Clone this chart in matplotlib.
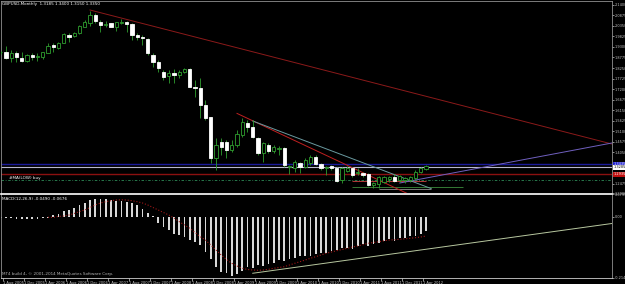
import numpy as np
import pandas as pd
import matplotlib
matplotlib.use('Agg')
import matplotlib.pyplot as plt

# monthly bars from Jul 2005 (first one is cut by the left edge) to Apr 2012
opens = [1.9040, 1.9065, 1.8735, 1.9015, 1.8765, 1.8600, 1.8900, 1.8785, 1.8785, 1.9015,
         1.9400, 1.9265, 1.9485, 1.9915, 1.9850, 1.9985, 2.0315, 2.0485, 2.0900, 2.0565,
         2.0400, 2.0485, 2.0315, 2.0485, 2.0535, 2.0450, 1.9900, 1.9815, 1.9685, 1.8900,
         1.8535, 1.8065, 1.7850, 1.7985, 1.7900, 1.8065, 1.8185, 1.7315, 1.7235, 1.6400,
         1.5785, 1.3735, 1.4565, 1.4565, 1.4150, 1.4400, 1.4900, 1.5515, 1.5315, 1.4735,
         1.3985, 1.4400, 1.4115, 1.4215, 1.4235, 1.3300, 1.3235, 1.3515, 1.3315, 1.3515,
         1.3785, 1.3450, 1.3235, 1.3350, 1.3235, 1.2650, 1.3115, 1.3235, 1.2985, 1.3015,
         1.2935, 1.2400, 1.2450, 1.2565, 1.2715, 1.2785, 1.2650, 1.2650, 1.2650, 1.2735,
         1.3065, 1.3185]
highs = [1.9095, 1.9350, 1.9150, 1.9115, 1.9065, 1.8950, 1.8985, 1.8985, 1.9065, 1.9515,
         1.9515, 1.9565, 1.9985, 1.9985, 2.0065, 2.0400, 2.0650, 2.1115, 2.0985, 2.0650,
         2.0615, 2.0515, 2.0565, 2.0685, 2.0600, 2.0485, 1.9985, 1.9900, 1.9735, 1.8985,
         1.8650, 1.8150, 1.8150, 1.8185, 1.8150, 1.8235, 1.8235, 1.7650, 1.7735, 1.6650,
         1.5785, 1.4735, 1.4735, 1.4650, 1.4650, 1.5150, 1.5735, 1.5650, 1.5650, 1.4815,
         1.4565, 1.4485, 1.4400, 1.4350, 1.4315, 1.3400, 1.3650, 1.3565, 1.3735, 1.3900,
         1.3900, 1.3485, 1.3350, 1.3400, 1.3315, 1.3315, 1.3350, 1.3315, 1.3235, 1.3065,
         1.2985, 1.2565, 1.2850, 1.2850, 1.2850, 1.2950, 1.2900, 1.2815, 1.2850, 1.3150,
         1.3315, 1.3400]
lows = [1.8950, 1.8685, 1.8565, 1.8565, 1.8565, 1.8550, 1.8650, 1.8615, 1.8685, 1.8985,
        1.9065, 1.9185, 1.9485, 1.9565, 1.9785, 1.9950, 2.0285, 2.0350, 2.0485, 2.0065,
        2.0315, 2.0285, 2.0115, 2.0465, 2.0065, 1.9650, 1.9650, 1.9400, 1.8900, 1.8315,
        1.8065, 1.7650, 1.7515, 1.7485, 1.7735, 1.7985, 1.7285, 1.6815, 1.5735, 1.5650,
        1.3485, 1.3150, 1.3900, 1.3735, 1.4065, 1.4315, 1.4815, 1.5065, 1.4735, 1.3900,
        1.3565, 1.3985, 1.3985, 1.3900, 1.3315, 1.2950, 1.3065, 1.2985, 1.3235, 1.3400,
        1.3400, 1.3150, 1.2900, 1.3150, 1.2565, 1.2515, 1.3065, 1.2815, 1.2900, 1.2815,
        1.2350, 1.2235, 1.2235, 1.2485, 1.2565, 1.2565, 1.2565, 1.2515, 1.2565, 1.2650,
        1.3015, 1.3150]
closes = [1.9060, 1.8735, 1.9015, 1.8785, 1.8600, 1.8900, 1.8785, 1.8825, 1.9035, 1.9365,
          1.9315, 1.9515, 1.9935, 1.9815, 2.0015, 2.0350, 2.0565, 2.0900, 2.0615, 2.0400,
          2.0465, 2.0315, 2.0535, 2.0535, 2.0435, 1.9900, 1.9815, 1.9735, 1.8985, 1.8565,
          1.8235, 1.7815, 1.8015, 1.7900, 1.8065, 1.8185, 1.7315, 1.7235, 1.6400, 1.5735,
          1.3735, 1.4400, 1.4315, 1.4150, 1.4400, 1.4950, 1.5565, 1.5315, 1.4815, 1.3985,
          1.4485, 1.4100, 1.4285, 1.4235, 1.3400, 1.3335, 1.3565, 1.3315, 1.3650, 1.3785,
          1.3450, 1.3235, 1.3315, 1.3235, 1.2600, 1.3235, 1.3235, 1.2900, 1.3065, 1.2900,
          1.2400, 1.2485, 1.2785, 1.2785, 1.2785, 1.2615, 1.2850, 1.2735, 1.2815, 1.3065,
          1.3235, 1.3350]

# MACD(12,26,9): main histogram and signal
macd_main = [-0.0053, -0.0053, -0.0053, -0.0070, -0.0070, -0.0070, -0.0070, -0.0070, -0.0053, -0.0035,
             0.0053, 0.0105, 0.0210, 0.0245, 0.0315, 0.0420, 0.0490, 0.0595, 0.0630, 0.0630,
             0.0630, 0.0595, 0.0560, 0.0560, 0.0525, 0.0490, 0.0420, 0.0280, 0.0140, 0.0018,
             -0.0210, -0.0350, -0.0455, -0.0595, -0.0630, -0.0700, -0.0805, -0.0875, -0.0980, -0.1225,
             -0.1470, -0.1750, -0.1925, -0.1960, -0.2065, -0.1995, -0.1890, -0.1750, -0.1785, -0.1680,
             -0.1715, -0.1645, -0.1610, -0.1505, -0.1540, -0.1470, -0.1435, -0.1365, -0.1365, -0.1365,
             -0.1295, -0.1260, -0.1260, -0.1190, -0.1155, -0.1085, -0.1085, -0.1120, -0.1015, -0.0945,
             -0.1015, -0.0945, -0.0910, -0.0840, -0.0770, -0.0840, -0.0735, -0.0735, -0.0665, -0.0665,
             -0.0595, -0.0490]
macd_signal = [np.nan] * 9 + [
    -0.0021, -0.0021, 0.0007, 0.0025, 0.0060, 0.0112, 0.0182, 0.0235, 0.0322, 0.0410,
    0.0480, 0.0525, 0.0560, 0.0585, 0.0592, 0.0585, 0.0560, 0.0525, 0.0480, 0.0410,
    0.0322, 0.0235, 0.0147, 0.0060, -0.0046, -0.0175, -0.0291, -0.0406, -0.0553, -0.0700,
    -0.0816, -0.0991, -0.1166, -0.1341, -0.1498, -0.1631, -0.1726, -0.1806, -0.1848, -0.1866,
    -0.1876, -0.1866, -0.1841, -0.1806, -0.1778, -0.1750, -0.1691, -0.1631, -0.1575, -0.1516,
    -0.1456, -0.1400, -0.1341, -0.1281, -0.1236, -0.1190, -0.1148, -0.1106, -0.1061, -0.1026,
    -0.0980, -0.0931, -0.0903, -0.0875, -0.0844, -0.0816, -0.0805, -0.0791, -0.0774, -0.0756,
    -0.0735, -0.0711, -0.0676]

# drawn objects (bar index, price)
long_trend_x = [17, 116.4]
long_trend_y = [2.115, 1.445]
red_trend_x = [45, 85]
red_trend_y = [1.598, 1.104]
grey_trend_x = [48, 82]
grey_trend_y = [1.560, 1.222]
violet_trend_x = [76, 116.4]
violet_trend_y = [1.250, 1.450]
macd_trend_x = [48, 116.4]
macd_trend_y = [-0.198, -0.0238]

level_blue = 1.3435
level_silver = 1.3285
level_red = 1.2935
level_buy = 1.2635
short_red = (1.2605, 67, 81)
short_green = (1.2285, 67, 88)
short_grey = (1.2185, 72, 82)

price_ticks = [2.1400, 2.0875, 2.0350, 1.9825, 1.9300, 1.8775, 1.8250, 1.7725, 1.7200,
               1.6675, 1.6150, 1.5625, 1.5100, 1.4575, 1.4050, 1.2475, 1.2000]
macd_ticks = [0.0795, 0.0, -0.2146]
macd_tick_labels = ['0.0795', '0.00', '-0.2146']

months = pd.date_range('2005-07-01', periods=len(opens), freq='MS')
label_idx = list(range(1, len(opens), 4))
date_labels = [months[i].strftime('1 %b %Y') for i in label_idx]

o = np.array(opens)
h = np.array(highs)
l = np.array(lows)
c = np.array(closes)
x = np.arange(len(o))
bull = c >= o

fg = '#c8c8c8'
wick = '#2f9e2f'
fs = 3.0
fs_axis = 2.5

fig = plt.figure(figsize=(6.25, 2.84), dpi=100, facecolor='black')
ax = fig.add_axes([0.0016, 0.32042, 0.9776, 0.67606], facecolor='black')
ax2 = fig.add_axes([0.0016, 0.02113, 0.9776, 0.29577], facecolor='black', sharex=ax)

# horizontal levels
ax.axhline(level_blue, color='#1a1a9a', lw=1.0, zorder=1)
ax.axhline(level_silver, color='#b8b8d0', lw=0.8, zorder=1)
ax.axhline(level_red, color='#8b1010', lw=1.0, zorder=1)
ax.axhline(level_buy, color='#2e8b57', lw=0.6, ls=(0, (3, 2, 1, 2)), zorder=1)
ax.hlines(short_red[0], short_red[1], short_red[2], color='#d04040', lw=0.6)
ax.hlines(short_green[0], short_green[1], short_green[2], color='#3c8c3c', lw=0.6)
ax.hlines(short_grey[0], short_grey[1], short_grey[2], color='#909090', lw=0.6)

# trend lines
ax.plot(long_trend_x, long_trend_y, color='#8b1a1a', lw=0.7)
ax.plot(red_trend_x, red_trend_y, color='#c02020', lw=0.7)
ax.plot(grey_trend_x, grey_trend_y, color='#6a9aa0', lw=0.7)
ax.plot(violet_trend_x, violet_trend_y, color='#7060c0', lw=0.7)

# candles
ax.vlines(x, l, h, color=wick, lw=0.6, zorder=3)
body = np.maximum(np.abs(c - o), 0.0015)
ax.bar(x, body, bottom=np.minimum(o, c), width=0.6,
       color=np.where(bull, 'black', 'white'),
       edgecolor=np.where(bull, wick, 'white'), linewidth=0.6, zorder=4)

ax.set_xlim(0.05, 116.43)
ax.set_ylim(1.2, 2.16)
ax.yaxis.tick_right()
ax.set_yticks(price_ticks)
ax.set_yticklabels(['%.4f' % v for v in price_ticks])
ax.tick_params(axis='y', colors=fg, labelsize=fs_axis, length=1.5, width=0.5, pad=0.3)
ax.tick_params(axis='x', bottom=False, labelbottom=False)
for s in ax.spines.values():
    s.set_color('#909090')
    s.set_linewidth(0.6)
ax.spines['bottom'].set_visible(False)

# price boxes on the right scale
for val, bg, tc in [(level_blue, '#2020d0', 'white'), (level_silver, 'white', 'black'),
                    (level_red, '#c01010', 'white')]:
    ax.text(1.002, val, '%.4f' % val, transform=ax.get_yaxis_transform(), fontsize=fs_axis,
            color=tc, va='center', ha='left',
            bbox=dict(facecolor=bg, edgecolor='none', pad=0.2), clip_on=False)

last = len(o) - 1
ax.text(0.002, 0.995, 'GBPUSD,Monthly  %.4f %.4f %.4f %.4f' % (o[last], h[last], l[last], c[last]),
        transform=ax.transAxes, fontsize=fs, color='white', va='top', ha='left')
ax.text(1.5, level_buy + 0.004, '#MA(LOW) buy', fontsize=fs, color='white', va='bottom', ha='left')

# MACD window
ax2.bar(x, macd_main, width=0.3, color='#d8d8d8', linewidth=0)
ax2.plot(x, macd_signal, color='#a01818', lw=0.8, ls=':')
ax2.plot(macd_trend_x, macd_trend_y, color='#b8c8a0', lw=0.7)
ax2.set_ylim(-0.2146, 0.0795)
ax2.yaxis.tick_right()
ax2.set_yticks(macd_ticks)
ax2.set_yticklabels(macd_tick_labels)
ax2.tick_params(axis='y', colors=fg, labelsize=fs_axis, length=1.5, width=0.5, pad=0.3)
ax2.set_xticks([i - 0.55 for i in label_idx])
ax2.set_xticklabels(date_labels, ha='left')
ax2.tick_params(axis='x', colors=fg, labelsize=2.6, length=2, width=0.5, pad=0.3)
for s in ax2.spines.values():
    s.set_color('#909090')
    s.set_linewidth(0.6)
ax2.spines['top'].set_color('white')
ax2.spines['top'].set_linewidth(1.2)
ax2.spines['bottom'].set_color('#d0d0d0')
ax2.text(0.002, 0.97, 'MACD(12,26,9) %.4f %.4f' % (macd_main[-1], macd_signal[-1]),
         transform=ax2.transAxes, fontsize=fs, color='white', va='top', ha='left')
ax2.text(0.002, 0.02, 'MT4 build 4, \u00a9 2001-2014 MetaQuotes Software Corp.',
         transform=ax2.transAxes, fontsize=fs, color='#b0b0b0', va='bottom', ha='left')

fig.savefig('out.png', dpi=100, facecolor='black')
